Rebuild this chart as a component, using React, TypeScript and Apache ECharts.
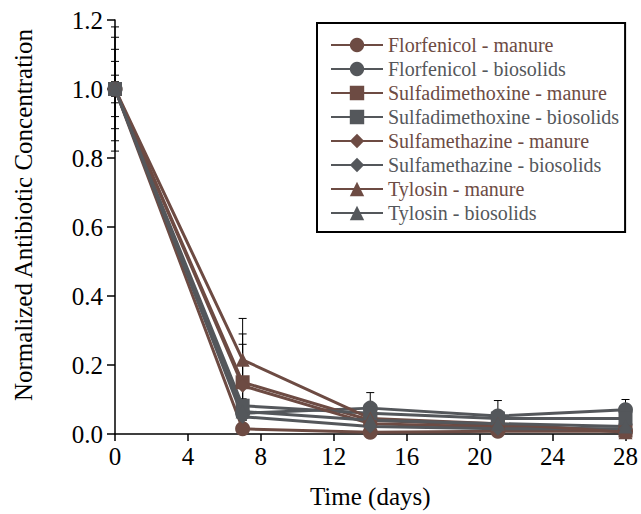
import React, { useEffect, useRef } from "react";
import * as echarts from "echarts";

const days = [0, 7, 14, 21, 28];

const seriesNames = [
  "Florfenicol - manure",
  "Florfenicol - biosolids",
  "Sulfadimethoxine - manure",
  "Sulfadimethoxine - biosolids",
  "Sulfamethazine - manure",
  "Sulfamethazine - biosolids",
  "Tylosin - manure",
  "Tylosin - biosolids",
];

const florManure = [1, 0.015, 0.005, 0.008, 0.008];
const florBiosolids = [1, 0.06, 0.075, 0.052, 0.07];
const sdmManure = [1, 0.15, 0.04, 0.025, 0.01];
const sdmBiosolids = [1, 0.082, 0.06, 0.045, 0.045];
const smzManure = [1, 0.14, 0.03, 0.02, 0.012];
const smzBiosolids = [1, 0.05, 0.022, 0.015, 0.015];
const tylManure = [1, 0.215, 0.045, 0.03, 0.005];
const tylBiosolids = [1, 0.065, 0.04, 0.03, 0.022];

const florManureErr = [0.04, 0.01, 0.005, 0.005, 0.005];
const florBiosolidsErr = [0.08, 0.02, 0.045, 0.045, 0.03];
const sdmManureErr = [0.115, 0.14, 0.01, 0.01, 0.005];
const sdmBiosolidsErr = [0.15, 0.02, 0.02, 0.01, 0.01];
const smzManureErr = [0.02, 0.12, 0.01, 0.01, 0.005];
const smzBiosolidsErr = [0.02, 0.01, 0.01, 0.005, 0.005];
const tylManureErr = [0.18, 0.12, 0.02, 0.01, 0.005];
const tylBiosolidsErr = [0.02, 0.02, 0.01, 0.01, 0.01];

const values = [
  florManure, florBiosolids, sdmManure, sdmBiosolids,
  smzManure, smzBiosolids, tylManure, tylBiosolids,
];
const errors = [
  florManureErr, florBiosolidsErr, sdmManureErr, sdmBiosolidsErr,
  smzManureErr, smzBiosolidsErr, tylManureErr, tylBiosolidsErr,
];

const xTicks = [0, 4, 8, 12, 16, 20, 24, 28];

const BROWN = "#6d4b43";
const GRAY = "#54575b";
const colors = [BROWN, GRAY, BROWN, GRAY, BROWN, GRAY, BROWN, GRAY];
const symbols = ["circle", "circle", "rect", "rect", "diamond", "diamond", "triangle", "triangle"];
const symbolSizes = [15, 15, 14, 14, 14, 14, 14, 14];

const FONT = "'Liberation Serif', 'Times New Roman', serif";

export default function App() {
  const ref = useRef<HTMLDivElement>(null);

  useEffect(() => {
    if (!ref.current) return;
    const chart = echarts.init(ref.current, null, { renderer: "svg" });

    const errData: number[][] = [];
    values.forEach((vals, si) => {
      vals.forEach((v, i) => {
        errData.push([days[i], v, errors[si][i]]);
      });
    });

    const lineSeries = seriesNames.map((name, si) => ({
      name,
      type: "line",
      data: days.map((d, i) => [d, values[si][i]]),
      symbol: symbols[si],
      symbolSize: symbolSizes[si],
      color: colors[si],
      lineStyle: { color: colors[si], width: 3 },
      itemStyle: { color: colors[si] },
      z: 3,
    }));

    const errSeries = {
      name: "errors",
      type: "custom",
      z: 2,
      data: errData,
      renderItem: (params: any, api: any) => {
        const x = api.value(0);
        const y = api.value(1);
        const e = api.value(2);
        const top = api.coord([x, y + e]);
        const bot = api.coord([x, y - e]);
        const hw = 4;
        const style = { stroke: "#000", lineWidth: 1 };
        return {
          type: "group",
          children: [
            { type: "line", shape: { x1: top[0], y1: top[1], x2: bot[0], y2: bot[1] }, style },
            { type: "line", shape: { x1: top[0] - hw, y1: top[1], x2: top[0] + hw, y2: top[1] }, style },
            { type: "line", shape: { x1: bot[0] - hw, y1: bot[1], x2: bot[0] + hw, y2: bot[1] }, style },
          ],
        };
      },
    };

    chart.setOption({
      animation: false,
      backgroundColor: "#fff",
      grid: { left: 115, right: 14, top: 20, bottom: 75, containLabel: false },
      xAxis: {
        type: "value",
        min: 0,
        max: 28,
        interval: 4,
        name: "Time (days)",
        nameLocation: "middle",
        nameGap: 50,
        nameTextStyle: { fontFamily: FONT, fontSize: 25, color: "#000" },
        axisLine: { show: true, lineStyle: { color: "#000", width: 1.5 } },
        axisTick: { show: true, inside: false, length: 7, lineStyle: { color: "#000", width: 1.5 } },
        axisLabel: {
          fontFamily: FONT, fontSize: 25, color: "#000", margin: 10,
          formatter: (v: number) => (xTicks.includes(v) ? String(v) : ""),
        },
        splitLine: { show: false },
      },
      yAxis: {
        type: "value",
        min: 0,
        max: 1.2,
        interval: 0.2,
        axisLine: { show: true, lineStyle: { color: "#000", width: 1.5 } },
        axisTick: { show: true, inside: false, length: 8, lineStyle: { color: "#000", width: 1.5 } },
        axisLabel: {
          fontFamily: FONT, fontSize: 25, color: "#000", margin: 12,
          formatter: (v: number) => v.toFixed(1),
        },
        splitLine: { show: false },
      },
      legend: {
        orient: "vertical",
        left: 317,
        top: 23,
        width: 305,
        borderColor: "#000",
        borderWidth: 2,
        backgroundColor: "#fff",
        padding: [12, 6, 9, 13],
        itemGap: 4,
        itemWidth: 52,
        itemHeight: 18,
        itemTextGap: 4,
        textStyle: { fontFamily: FONT, fontSize: 20, lineHeight: 20 },
        data: seriesNames.map((n, i) => ({
          name: n,
          textStyle: { color: colors[i], fontFamily: FONT, fontSize: 20, lineHeight: 20 },
        })),
      },
      graphic: [
        {
          type: "text",
          x: 23,
          y: 215,
          rotation: Math.PI / 2,
          style: {
            text: "Normalized Antibiotic Concentration",
            fontFamily: FONT,
            fontSize: 25,
            fill: "#000",
            align: "center",
            verticalAlign: "middle",
          },
        },
      ],
      series: [errSeries, ...lineSeries],
    });

    return () => chart.dispose();
  }, []);

  return <div ref={ref} style={{ width: 641, height: 514, position: "absolute", left: 0, top: 0 }} />;
}
